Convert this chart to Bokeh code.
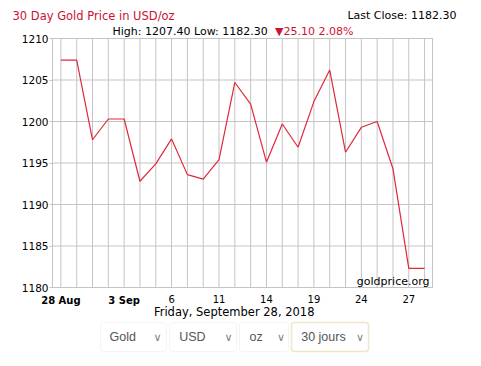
from bokeh.plotting import figure
from bokeh.models import FixedTicker, BoxAnnotation, Range1d, LinearAxis
from bokeh.core.properties import value
from bokeh.embed import file_html
from bokeh.resources import INLINE

# ---- data ----
dates = ["28 Aug", "29 Aug", "30 Aug", "31 Aug", "3 Sep", "4 Sep", "5 Sep", "6 Sep",
         "7 Sep", "10 Sep", "11 Sep", "12 Sep", "13 Sep", "14 Sep", "17 Sep", "18 Sep",
         "19 Sep", "20 Sep", "21 Sep", "24 Sep", "25 Sep", "26 Sep", "27 Sep", "28 Sep"]
prices = [1207.40, 1207.40, 1197.80, 1200.30, 1200.30, 1192.80, 1194.90, 1197.90,
          1193.60, 1193.05, 1195.40, 1204.70, 1202.10, 1195.10, 1199.70, 1196.90,
          1202.40, 1206.20, 1196.30, 1199.30, 1200.00, 1194.30, 1182.30, 1182.30]
tick_idx = [0, 4, 7, 10, 13, 16, 19, 22]
tick_labels = ["28 Aug", "3 Sep", "6", "11", "14", "19", "24", "27"]
bold_ticks = ["28 Aug", "3 Sep"]
y_ticks = [1180, 1185, 1190, 1195, 1200, 1205, 1210]
title_text = "30 Day Gold Price in USD/oz"
last_close_text = "Last Close: 1182.30"
hilo_text = "High: 1207.40 Low: 1182.30"
change_text = "\u25BC25.10 2.08%"
date_text = "Friday, September 28, 2018"
source_text = "goldprice.org"
selects = ["Gold", "USD", "oz", "30 jours"]

# ---- geometry (pixels on the canvas) ----
W, H = 480, 364
BL, BR, BT, BB = 52, 432, 38, 287      # chart box
X0, X1 = -0.53, 23.5
Y0, Y1 = 1180, 1210
upp = (X1 - X0) / (BR - BL)
vpp = (Y1 - Y0) / (BB - BT)


def fx(px):
    return X0 + (px - BL) * upp


def fy(py):
    return Y1 - (py - BT) * vpp


FONT = "DejaVu Sans"
GRID = "#c4c4c4"
RED = "#cc1133"

p = figure(width=W, height=H, output_backend="svg", toolbar_location=None,
           x_range=Range1d(fx(0), fx(W)), y_range=Range1d(fy(H), fy(0)),
           x_axis_location=None, y_axis_location=None, min_border=0)
p.grid.visible = False
p.outline_line_color = None
p.background_fill_color = "white"
p.border_fill_color = "white"

# grid lines and box
xs = list(range(len(dates)))
p.segment(x0=xs, y0=[Y0] * len(xs), x1=xs, y1=[Y1] * len(xs), line_color=GRID, line_width=1)
p.segment(x0=[X0] * len(y_ticks), y0=y_ticks, x1=[X1] * len(y_ticks), y1=y_ticks,
          line_color=GRID, line_width=1)
p.quad(left=[X0], right=[X1], bottom=[Y0], top=[Y1], fill_color=None, line_color=GRID)

# y axis at the left edge of the box
yax = LinearAxis(fixed_location=X0, bounds=(Y0, Y1), ticker=FixedTicker(ticks=y_ticks))
yax.axis_line_color = GRID
yax.major_tick_line_color = GRID
yax.major_tick_out = 3
yax.major_tick_in = 0
yax.minor_tick_line_color = None
yax.major_label_standoff = 1
yax.major_label_text_font = FONT
yax.major_label_text_font_size = "10.5px"
yax.major_label_text_color = "black"
p.add_layout(yax, "left")

# x axes at the bottom edge (normal and bold labels)
norm = [(i, t) for i, t in zip(tick_idx, tick_labels) if t not in bold_ticks]
bold = [(i, t) for i, t in zip(tick_idx, tick_labels) if t in bold_ticks]
for group, style, line, size in ((norm, "normal", GRID, "10px"), (bold, "bold", None, "10px")):
    ax = LinearAxis(fixed_location=Y0, bounds=(X0, X1),
                    ticker=FixedTicker(ticks=[i for i, _ in group]))
    ax.major_label_overrides = {i: t for i, t in group}
    ax.axis_line_color = line
    ax.major_tick_line_color = None
    ax.minor_tick_line_color = None
    ax.major_label_standoff = 1
    ax.major_label_text_font = FONT
    ax.major_label_text_font_size = size
    ax.major_label_text_font_style = style
    ax.major_label_text_color = "black"
    p.add_layout(ax, "below")

# price line
p.line(x=xs, y=prices, line_color="#e0283a", line_width=1.2)


# texts
def txt(px, py, s, align, size, color="black", font=FONT):
    p.text(x=[fx(px)], y=[fy(py)], text=[s], text_align=align, text_baseline="middle",
           text_font=value(font), text_font_size=value(size), text_color=color)


txt(12, 15, title_text, "left", "11.5px", RED)
txt(456, 15, last_close_text, "right", "11px")
txt(112, 30.7, hilo_text, "left", "11px")
txt(274.5, 30.7, change_text, "left", "11px", RED)
txt(429, 280.7, source_text, "right", "11px")
txt(233.7, 311.5, date_text, "center", "11.5px")

# select boxes
boxes = [(100, 166), (169, 236), (239, 288), (291, 368)]
text_left = [109, 178.7, 249, 300.7]
chev_x = [157, 228, 280.5, 359.5]
for k, (name, (l, r)) in enumerate(zip(selects, boxes)):
    sel = k == len(selects) - 1
    p.add_layout(BoxAnnotation(left=fx(l), right=fx(r), top=fy(322), bottom=fy(351),
                               fill_color=None, level="underlay",
                               line_color="#c9a845" if sel else "#d9d9d9",
                               line_width=1.5 if sel else 1, border_radius=3))
    txt(text_left[k], 336.7, name, "left", "12.5px", "#555555", "Liberation Sans")
    txt(chev_x[k], 337, "\u2228", "center", "11px", "#808080")

open("out.html", "w").write(file_html(p, INLINE))
